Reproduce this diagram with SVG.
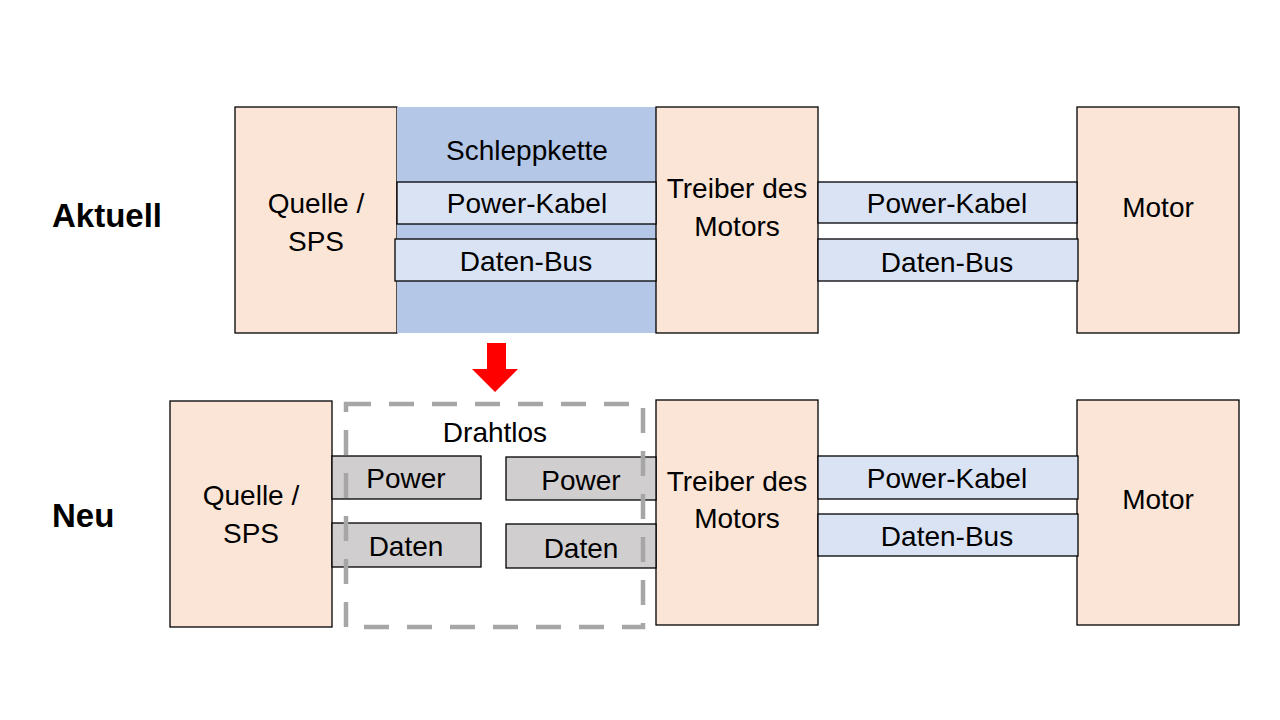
<svg xmlns="http://www.w3.org/2000/svg" width="1280" height="720" viewBox="0 0 1280 720">
<style>
.node{fill:#FBE5D6;stroke:#000;stroke-width:1.3}
.chain{fill:#B4C7E7;stroke:none}
.cable{fill:#DAE3F3;stroke:#000;stroke-width:1.3}
.wl{fill:#D0CECE;stroke:#000;stroke-width:1.3}
.t{font-family:"Liberation Sans",Arial,sans-serif;font-size:28px;fill:#000;text-anchor:middle}
.h{font-family:"Liberation Sans",Arial,sans-serif;font-size:33px;font-weight:bold;fill:#000}
.dash{fill:none;stroke:#A6A6A6;stroke-width:4.5;stroke-dasharray:25 18}
</style>
<rect width="1280" height="720" fill="#fff"/>
<text class="h" x="52" y="227">Aktuell</text>
<text class="h" x="52" y="527">Neu</text>

<g id="quelle-top"><rect class="node" x="235" y="107" width="162" height="226"/><text class="t" x="316" y="213">Quelle /</text><text class="t" x="316" y="251">SPS</text></g>
<g id="schleppkette"><rect class="chain" x="397" y="107" width="259" height="226"/><text class="t" x="527" y="160">Schleppkette</text></g>
<g id="treiber-top"><rect class="node" x="656" y="107" width="162" height="226"/><text class="t" x="737" y="198">Treiber des</text><text class="t" x="737" y="236">Motors</text></g>
<g id="motor-top"><rect class="node" x="1077" y="107" width="162" height="226"/><text class="t" x="1158" y="217">Motor</text></g>

<g id="quelle-bottom"><rect class="node" x="170" y="401" width="162" height="226"/><text class="t" x="251" y="505">Quelle /</text><text class="t" x="251" y="543">SPS</text></g>
<g id="treiber-bottom"><rect class="node" x="656" y="400" width="162" height="225"/><text class="t" x="737" y="491">Treiber des</text><text class="t" x="737" y="528">Motors</text></g>
<g id="motor-bottom"><rect class="node" x="1077" y="400" width="162" height="225"/><text class="t" x="1158" y="509">Motor</text></g>

<g id="connectors">
<g id="power-kabel-1"><rect class="cable" x="397" y="182" width="259" height="42"/><text class="t" x="527" y="213">Power-Kabel</text></g>
<g id="daten-bus-1"><rect class="cable" x="395" y="239" width="261" height="42"/><text class="t" x="526" y="271">Daten-Bus</text></g>
<g id="power-kabel-2"><rect class="cable" x="818" y="182" width="259" height="41"/><text class="t" x="947" y="213">Power-Kabel</text></g>
<g id="daten-bus-2"><rect class="cable" x="818" y="239" width="260" height="42"/><text class="t" x="947" y="272">Daten-Bus</text></g>
<g id="power-kabel-3"><rect class="cable" x="818" y="456" width="260" height="43"/><text class="t" x="947" y="488">Power-Kabel</text></g>
<g id="daten-bus-3"><rect class="cable" x="818" y="514" width="260" height="42"/><text class="t" x="947" y="546">Daten-Bus</text></g>
<g id="power-l"><rect class="wl" x="332" y="456" width="149" height="43"/><text class="t" x="406" y="488">Power</text></g>
<g id="daten-l"><rect class="wl" x="332" y="523" width="149" height="44"/><text class="t" x="406" y="556">Daten</text></g>
<g id="power-r"><rect class="wl" x="506" y="457" width="150" height="43"/><text class="t" x="581" y="490">Power</text></g>
<g id="daten-r"><rect class="wl" x="506" y="524" width="150" height="44"/><text class="t" x="581" y="558">Daten</text></g>
<polygon id="arrow" points="487,343 506,343 506,369 518,369 495,392 472,369 487,369" fill="#FF0000"/>
</g>

<g id="drahtlos"><rect class="dash" x="346" y="404" width="297" height="223"/><text class="t" x="495" y="442">Drahtlos</text></g>
</svg>
